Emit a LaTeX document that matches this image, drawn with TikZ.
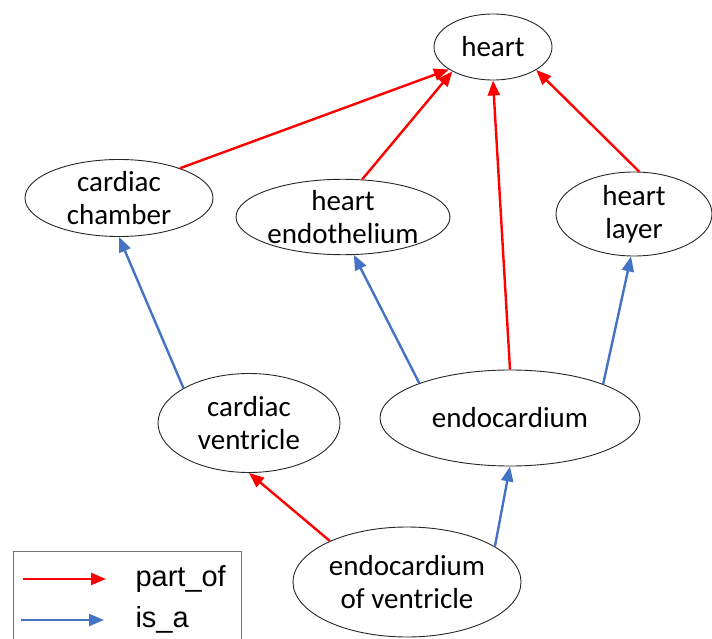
\documentclass[tikz,border=0pt]{standalone}
\usepackage{fontspec}
\setmainfont{Carlito}
\newfontfamily\legendfont{Liberation Sans}
\usetikzlibrary{shapes.geometric,arrows.meta}
\definecolor{partred}{RGB}{255,0,0}
\definecolor{isablue}{RGB}{68,114,196}

\begin{document}
\begin{tikzpicture}[x=1pt,y=-1pt]
    % Styles
    \tikzstyle{term}=[ellipse, draw=black!85, line width=0.9pt, inner sep=0, align=center,
      font=\fontsize{29}{33}\selectfont]
    \tikzstyle{partof}=[partred, line width=2.4pt, -{Triangle[length=15pt,width=12pt]}]
    \tikzstyle{isa}=[isablue, line width=2.4pt, -{Triangle[length=15pt,width=12pt]}]
    \useasboundingbox (0,0) rectangle (712,639);

    % Terms
    \node[term, minimum width=118, minimum height=66] (heart) at (493,47) {heart};
    \node[term, minimum width=188, minimum height=77] (chamber) at (119,198) {cardiac\\chamber};
    \node[term, minimum width=206, minimum height=75] (endothelium) at (343,217) {heart\\endothelium};
    \node[term, minimum width=156, minimum height=84] (layer) at (634,214) {heart\\layer};
    \node[term, minimum width=182, minimum height=99] (ventricle) at (249,423) {cardiac\\ventricle};
    \node[term, minimum width=260, minimum height=96] (endocardium) at (510,418) {endocardium};
    \node[term, minimum width=228, minimum height=110] (endoventricle) at (407,582) {endocardium\\of ventricle};

    % part_of
    \draw[partof] (chamber.26) -- (heart.207);
    \draw[partof] (endothelium.63) -- (heart.211);
    \draw[partof] (endocardium.north) -- (heart.south);
    \draw[partof] (layer.83) -- (heart.332);
    \draw[partof] (endoventricle.152) -- (ventricle.south);

    % is_a
    \draw[isa] (ventricle.152) -- (chamber.south);
    \draw[isa] (endocardium.159) -- (endothelium.286);
    \draw[isa] (endocardium.20) -- (layer.266);
    \draw[isa] (endoventricle.22) -- (endocardium.south);

    % Legend
    \draw[black!55, line width=1pt] (13,639) -- (13,551) -- (241,551) -- (241,639);
    \coordinate (partof-a) at (23,579);
    \coordinate (partof-b) at (106,579);
    \coordinate (isa-a) at (21,620);
    \coordinate (isa-b) at (104,620);
    \draw[partof] (partof-a) -- (partof-b);
    \draw[isa] (isa-a) -- (isa-b);
    \node[anchor=west, font=\legendfont\fontsize{29}{33}\selectfont] (partof-text) at (132,579) {part\_of};
    \node[anchor=west, font=\legendfont\fontsize{29}{33}\selectfont] (isa-text) at (132,620) {is\_a};
\end{tikzpicture}
\end{document}
